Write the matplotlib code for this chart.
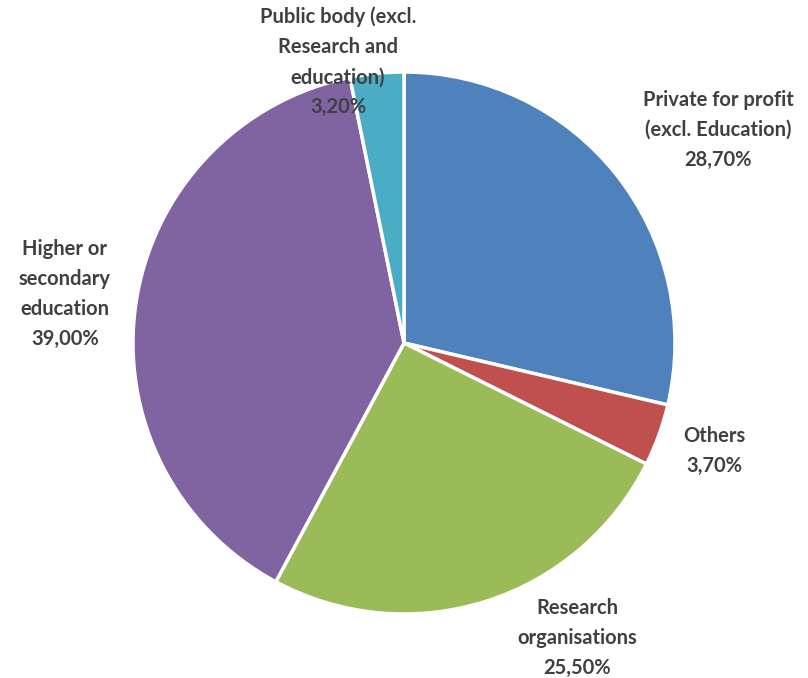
import matplotlib.pyplot as plt

labels = ['Private for profit\n(excl. Education)', 'Others', 'Research\norganisations',
          'Higher or\nsecondary\neducation', 'Public body (excl.\nResearch and\neducation)']
values = [28.7, 3.7, 25.5, 39.0, 3.2]
colors = ['#4F81BD', '#C0504D', '#9BBB59', '#8064A2', '#4BACC6']
pct_text = ['28,70%', '3,70%', '25,50%', '39,00%', '3,20%']

W, H = 808, 678
fig = plt.figure(figsize=(W / 100, H / 100), dpi=100)
fig.patch.set_facecolor('white')

# pie centre ~ (404, 343) px, radius ~ 271 px
cx, cy, r = 404, 343, 271
ax = fig.add_axes([(cx - r) / W, (H - cy - r) / H, 2 * r / W, 2 * r / H])
ax.pie(values, colors=colors, startangle=90, counterclock=False,
       wedgeprops=dict(edgecolor='white', linewidth=2.5))
ax.set_xlim(-1.0, 1.0)
ax.set_ylim(-1.0, 1.0)
ax.set_aspect('equal')
ax.axis('off')

# label centres in pixel coords (from top-left)
label_pos = [(718, 130), (714, 451), (577, 638), (65, 294), (338, 62)]
for lab, p, (x, y) in zip(labels, pct_text, label_pos):
    fig.text(x / W, 1 - y / H, lab + '\n' + p, ha='center', va='center',
             fontsize=14.5, fontweight='bold', color='#404040', family='Lato',
             linespacing=1.62)

fig.savefig('out.png', dpi=100)
